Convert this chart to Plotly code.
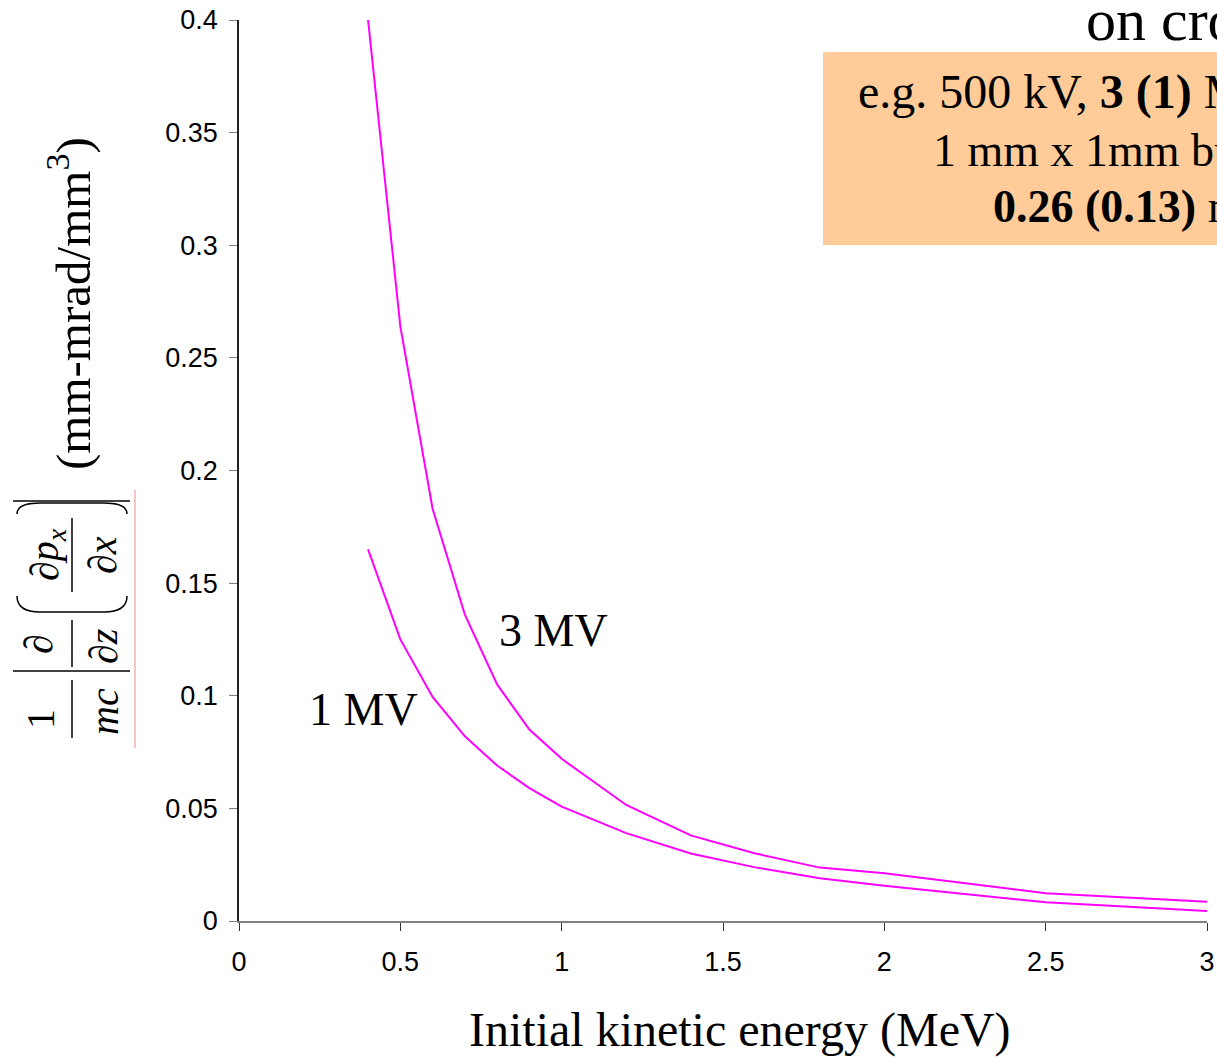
import plotly.graph_objects as go

# ---------------- data ----------------
energy_mev = [0.4, 0.5, 0.6, 0.7, 0.8, 0.9, 1.0, 1.2, 1.4, 1.6, 1.8, 2.0, 2.5, 3.0]
curve_3mv = [0.400, 0.264, 0.183, 0.136, 0.105, 0.085, 0.072, 0.0515, 0.038, 0.030, 0.0237, 0.0212, 0.0123, 0.0086]
curve_1mv = [0.165, 0.125, 0.0995, 0.082, 0.069, 0.059, 0.0508, 0.039, 0.030, 0.0238, 0.019, 0.0157, 0.0083, 0.0044]
series_names = ["3 MV", "1 MV"]
x_ticks = [0, 0.5, 1, 1.5, 2, 2.5, 3]
x_tick_labels = ["0", "0.5", "1", "1.5", "2", "2.5", "3"]
y_ticks = [0, 0.05, 0.1, 0.15, 0.2, 0.25, 0.3, 0.35, 0.4]
y_tick_labels = ["0", "0.05", "0.1", "0.15", "0.2", "0.25", "0.3", "0.35", "0.4"]
x_title = "Initial kinetic energy (MeV)"
y_units = "(mm-mrad/mm<sup>3</sup>)"
box_lines = ["e.g. 500 kV, <b>3 (1)</b> MV/m,", "1 mm x 1mm bunch", "<b>0.26 (0.13)</b> mm-mrad"]
top_title = "on cross-plane emittance"

# ---------------- layout helpers ----------------
W, H = 1217, 1057
L, R, T, B = 239, 10, 20, 136
PW, PH = W - L - R, H - T - B


def px(x):
    return (x - L) / PW


def py(y):
    return (H - B - y) / PH


SERIF = "Times New Roman, Liberation Serif, DejaVu Serif, serif"
SANS = "Arial, Liberation Sans, sans-serif"
MAG = "#FF00FF"

fig = go.Figure()
fig.add_trace(go.Scatter(x=energy_mev, y=curve_3mv, mode="lines", name=series_names[0],
                         line=dict(color=MAG, width=2), showlegend=False, cliponaxis=False))
fig.add_trace(go.Scatter(x=energy_mev, y=curve_1mv, mode="lines", name=series_names[1],
                         line=dict(color=MAG, width=2), showlegend=False, cliponaxis=False))

annotations = []
shapes = []

# curve labels
annotations.append(dict(x=0.80, y=0.129, xref="x", yref="y", text=series_names[0], showarrow=False,
                        xanchor="left", yanchor="middle", font=dict(family=SERIF, size=46, color="black")))
annotations.append(dict(x=0.212, y=0.0937, xref="x", yref="y", text=series_names[1], showarrow=False,
                        xanchor="left", yanchor="middle", font=dict(family=SERIF, size=46, color="black")))

# x-axis title
annotations.append(dict(x=px(740), y=py(1030), xref="paper", yref="paper", text=x_title, showarrow=False,
                        xanchor="center", yanchor="middle", font=dict(family=SERIF, size=48, color="black")))

# top-right partial title
annotations.append(dict(x=px(1084), y=py(20), xref="paper", yref="paper", text=top_title, showarrow=False,
                        xanchor="left", yanchor="middle", font=dict(family=SERIF, size=60, color="black")))

# orange box
shapes.append(dict(type="rect", xref="paper", yref="paper", x0=px(823), x1=px(1260), y0=py(52), y1=py(245),
                   fillcolor="#FFCC99", line=dict(width=0), layer="below"))
box_left = [856, 931, 991]
box_mid = [92, 150, 207]
box_size = [48, 46, 46]
for txt, lx, my, fs in zip(box_lines, box_left, box_mid, box_size):
    annotations.append(dict(x=px(lx), y=py(my), xref="paper", yref="paper", text=txt, showarrow=False,
                            xanchor="left", yanchor="middle", font=dict(family=SERIF, size=fs, color="black")))

# y-axis label (rotated formula + units)
FS = 40
formula_parts = [
    ("1", 40, 719, FS),
    ("<i>mc</i>", 104, 712, FS),
    ("\u2202", 38, 644, FS),
    ("\u2202<i>z</i>", 103, 646, FS),
    ("\u2202<i>p</i><sub><i>x</i></sub>", 47, 555, FS),
    ("\u2202<i>x</i>", 102, 555, FS),
    (y_units, 69, 304, 49),
]
for txt, cx, cy, fs in formula_parts:
    annotations.append(dict(x=px(cx), y=py(cy), xref="paper", yref="paper", text=txt, showarrow=False,
                            textangle=-90, xanchor="center", yanchor="middle",
                            font=dict(family=SERIF, size=fs, color="black")))

# fraction bars
for y0, y1 in [(680, 738), (620, 667), (518, 592)]:
    shapes.append(dict(type="line", xref="paper", yref="paper", x0=px(72), x1=px(72), y0=py(y0), y1=py(y1),
                       line=dict(color="black", width=1.5)))
# absolute-value bars
for yy in [501, 671]:
    shapes.append(dict(type="line", xref="paper", yref="paper", x0=px(13), x1=px(130), y0=py(yy), y1=py(yy),
                       line=dict(color="black", width=1.5)))


# parentheses (rotated)
def P(x, y):
    return f"{px(x):.5f},{py(y):.5f}"


path_bottom = f"M {P(17, 596)} Q {P(17, 612)} {P(40, 612)} L {P(104, 612)} Q {P(127, 612)} {P(127, 596)}"
path_top = f"M {P(17, 514)} Q {P(17, 503)} {P(40, 503)} L {P(104, 503)} Q {P(127, 503)} {P(127, 514)}"
for pth in [path_bottom, path_top]:
    shapes.append(dict(type="path", xref="paper", yref="paper", path=pth, line=dict(color="black", width=1.5)))

# thin pink line
shapes.append(dict(type="line", xref="paper", yref="paper", x0=px(135), x1=px(135), y0=py(490), y1=py(748),
                   line=dict(color="#F08888", width=1)))

fig.update_layout(
    width=W, height=H,
    autosize=False,
    margin=dict(l=L, r=R, t=T, b=B, pad=0, autoexpand=False),
    paper_bgcolor="white", plot_bgcolor="white",
    annotations=annotations, shapes=shapes,
    showlegend=False,
    xaxis=dict(range=[0, 3], tickvals=x_ticks, ticktext=x_tick_labels, showgrid=False, zeroline=False,
               showline=True, linecolor="#808080", linewidth=1.5, ticks="outside", ticklen=8, tickcolor="#333",
               ticklabelstandoff=8, automargin=False,
               tickfont=dict(family=SANS, size=27, color="black"), fixedrange=True),
    yaxis=dict(range=[0, 0.4], tickvals=y_ticks, ticktext=y_tick_labels, showgrid=False, zeroline=False,
               showline=True, linecolor="#222", linewidth=1.5, ticks="outside", ticklen=8, tickcolor="#808080",
               ticklabelstandoff=6, automargin=False,
               tickfont=dict(family=SANS, size=27, color="black"), fixedrange=True),
)

fig.write_html("out.html")
